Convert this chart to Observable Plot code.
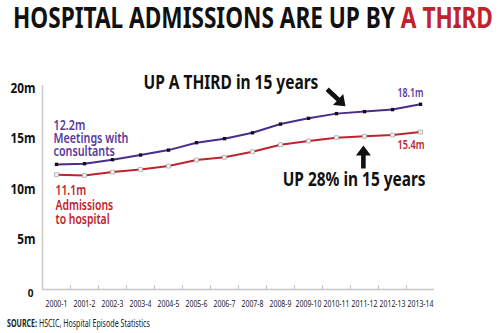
<!DOCTYPE html>
<html>
<head>
<meta charset="utf-8">
<script src="https://cdn.jsdelivr.net/npm/d3@7"></script>
<script src="https://cdn.jsdelivr.net/npm/@observablehq/plot@0.6"></script>
<style>
  body { margin: 0; background: #fff; }
  #wrap { position: relative; width: 500px; height: 333px; overflow: hidden; background: #fff; }
  #title { position: absolute; left: 0; top: 0; }
  #chart { position: absolute; left: 0; top: 40px; }
  #source { position: absolute; left: 0; top: 313px; }
  svg text { font-stretch: condensed; }
</style>
</head>
<body>
<div id="wrap">
  <div id="title"></div>
  <div id="chart"></div>
  <div id="source"></div>
</div>
<script>
const F = "'Noto Sans','Liberation Sans',sans-serif";

// ---- data ----
const years = ["2000-1","2001-2","2002-3","2003-4","2004-5","2005-6","2006-7","2007-8","2008-9","2009-10","2010-11","2011-12","2012-13","2013-14"];
const consultants = [12.45,12.52,12.92,13.38,13.87,14.61,15.01,15.59,16.46,17.03,17.5,17.7,17.9,18.43];
const admissions  = [11.42,11.35,11.68,11.95,12.28,12.88,13.15,13.71,14.41,14.77,15.11,15.24,15.37,15.67];
const yTicks = [5,10,15,20];
const yTickLabels = ["5m","10m","15m","20m"];
const consultantsLabel = "12.2m\nMeetings with\nconsultants";
const admissionsLabel = "11.1m\nAdmissions\nto hospital";
const consultantsEnd = "18.1m";
const admissionsEnd = "15.4m";
const noteUp = "UP A THIRD in 15 years";
const note28 = "UP 28% in 15 years";
const titleMain = "HOSPITAL ADMISSIONS ARE UP BY ";
const titleRed = "A THIRD";
const sourceBold = "SOURCE:";
const sourceText = " HSCIC, Hospital Episode Statistics";

const PURPLE = "#4b2c8c";
const PURPLE_T = "#5a3a9c";
const RED = "#c0222e";

// horizontal squeeze of a text element around its anchor point
function squeeze(el, k, ky = 1) {
  const t = el.getAttribute("transform");
  if (t) {
    el.setAttribute("transform", `${t} scale(${k},${ky})`);
  } else {
    const x = parseFloat(el.getAttribute("x")) || 0, y = parseFloat(el.getAttribute("y")) || 0;
    el.removeAttribute("x"); el.removeAttribute("y");
    el.setAttribute("transform", `translate(${x},${y}) scale(${k},${ky})`);
  }
}
// fit all texts of a group using the width of one reference text
function fitGroup(texts, target, refIndex = 0, ky = 1) {
  if (!texts.length) return;
  const w = texts[refIndex].getBBox().width;
  if (!w) return;
  const k = target / w;
  texts.forEach(el => squeeze(el, k, ky));
}

const ns = "http://www.w3.org/2000/svg";
const Fq = F.replace(/'/g, "&quot;");
document.getElementById("title").innerHTML =
  `<svg width="500" height="40" xmlns="${ns}"><text x="13" y="28" font-family="${Fq}" font-weight="bold" font-size="17" fill="#111">${titleMain}<tspan fill="${RED}">${titleRed}</tspan></text></svg>`;
document.getElementById("source").innerHTML =
  `<svg width="500" height="20" xmlns="${ns}"><text x="7" y="14" font-family="${Fq}" font-size="11" fill="#222"><tspan font-weight="bold">${sourceBold}</tspan>${sourceText}</text></svg>`;

const boundaries = d3.range(0.5, years.length - 1, 1);

const blockArrow = {
  draw(context, l) {
    const hw = 7.5, hl = 10, sw = 2.3;
    context.moveTo(-sw, 0);
    context.lineTo(-sw, -l + hl);
    context.lineTo(-hw, -l + hl);
    context.lineTo(0, -l);
    context.lineTo(hw, -l + hl);
    context.lineTo(sw, -l + hl);
    context.lineTo(sw, 0);
    context.closePath();
  }
};

const chart = Plot.plot({
  width: 500,
  height: 275,
  marginLeft: 42,
  marginRight: 66,
  marginTop: 48,
  marginBottom: 26,
  style: { fontFamily: F, background: "transparent", overflow: "visible" },
  x: { type: "linear", domain: [-0.5, years.length - 0.5], axis: null },
  y: { domain: [0, 20], axis: null },
  marks: [
    // axes
    Plot.ruleX([-0.5], { y1: 0, y2: 20.3, stroke: "#c8c8c8", strokeWidth: 1.5 }),
    Plot.ruleY([0], { x1: -0.5, x2: years.length - 0.5, stroke: "#c8c8c8", strokeWidth: 1.5 }),
    Plot.ruleX(boundaries, { y1: 0, y2: 0.4, stroke: "#c8c8c8", strokeWidth: 1.2 }),
    Plot.text(years, { x: (d, i) => i, y: 0, dy: 14, text: d => d, fontSize: 9.5, fill: "#222", className: "fit-x" }),
    Plot.text(yTicks, { x: -0.5, y: d => d, dx: -7, text: (d, i) => yTickLabels[i], textAnchor: "end", fontSize: 14.5, fontWeight: "bold", fill: "#111", className: "fit-y" }),
    Plot.text([0], { x: -0.5, y: 0, dx: -9, dy: 4, text: d => String(d), textAnchor: "end", fontSize: 10, fontWeight: "bold", fill: "#111" }),
    // lines
    Plot.line(admissions, { x: (d, i) => i, y: d => d, stroke: RED, strokeWidth: 2 }),
    Plot.dot(admissions, { x: (d, i) => i, y: d => d, symbol: "square", r: 2.2, fill: "#f4f4f4", stroke: "#aaa", strokeWidth: 0.8 }),
    Plot.line(consultants, { x: (d, i) => i, y: d => d, stroke: PURPLE, strokeWidth: 2 }),
    Plot.dot(consultants, { x: (d, i) => i, y: d => d, symbol: "square", r: 1.9, fill: "#111", stroke: "none" }),
    // series labels
    Plot.text([consultants[0]], { x: 0, y: d => d, dx: -3, dy: -8, text: () => consultantsLabel, textAnchor: "start", lineAnchor: "bottom", lineHeight: 0.97, fontSize: 13.5, fontWeight: 600, fill: PURPLE_T, className: "fit-purple" }),
    Plot.text([admissions[0]], { x: 0, y: d => d, dx: -1, dy: 10, text: () => admissionsLabel, textAnchor: "start", lineAnchor: "top", lineHeight: 1.08, fontSize: 13.5, fontWeight: 600, fill: RED, className: "fit-red" }),
    Plot.text([consultants[consultants.length - 1]], { x: years.length - 1, y: d => d, dx: 3, dy: -11, text: () => consultantsEnd, textAnchor: "end", fontSize: 13, fontWeight: 600, fill: PURPLE_T, className: "fit-end" }),
    Plot.text([admissions[admissions.length - 1]], { x: years.length - 1, y: d => d, dx: 4, dy: 13, text: () => admissionsEnd, textAnchor: "end", fontSize: 13, fontWeight: 600, fill: RED, className: "fit-end2" }),
    // notes
    Plot.text([noteUp], { x: 6.23, y: 20.62, text: d => d, fontSize: 20, fontWeight: "bold", fill: "#111", className: "fit-note1" }),
    Plot.text([note28], { x: 10.63, y: 10.96, text: d => d, fontSize: 20, fontWeight: "bold", fill: "#111", className: "fit-note2" }),
    Plot.vector([0], { x: 10.32, y: 18.23, length: 25, rotate: 133, anchor: "end", shape: blockArrow, fill: "#111", stroke: "none" }),
    Plot.vector([0], { x: 10.96, y: 14.34, length: 23, rotate: 0, anchor: "end", shape: blockArrow, fill: "#111", stroke: "none" })
  ]
});
document.getElementById("chart").appendChild(chart);

const q = c => Array.from(chart.querySelectorAll(`.${c} text`));
fitGroup(q("fit-x"), 22);
fitGroup(q("fit-y"), 25, 3);
fitGroup(q("fit-purple"), 75);
fitGroup(q("fit-red"), 58);
fitGroup(q("fit-end"), 26);
fitGroup(q("fit-end2"), 27);
fitGroup(q("fit-note1"), 175);
fitGroup(q("fit-note2"), 143);
fitGroup(Array.from(document.querySelectorAll("#title text")), 480, 0, 29 / 17);
fitGroup(Array.from(document.querySelectorAll("#source text")), 143);
</script>
</body>
</html>
